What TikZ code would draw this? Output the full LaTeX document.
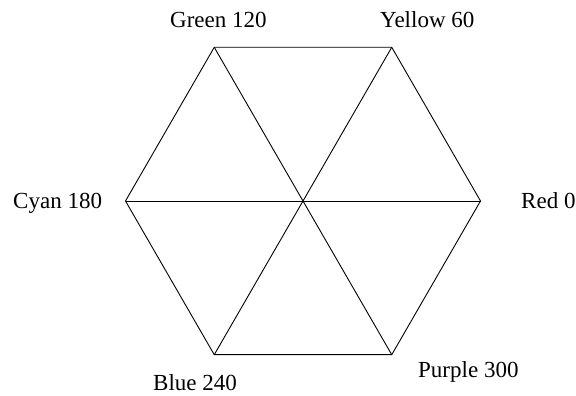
\documentclass[tikz,border=0pt]{standalone}
\usepackage{fontspec}
\setmainfont{Liberation Serif}
\begin{document}
\begin{tikzpicture}[x=1pt,y=1pt,
  edge/.style={line width=0.9pt,line join=miter},
  lbl/.style={anchor=base west,inner sep=0pt,font=\fontsize{23}{27}\selectfont}]
\useasboundingbox (0,0) rectangle (576,396);
% center and vertices (y flipped: 396 - y)
\coordinate (O) at (303,195);
\coordinate (R) at (480.5,195);
\coordinate (Y) at (391.75,348.7);
\coordinate (G) at (214.25,348.7);
\coordinate (C) at (125.5,195);
\coordinate (B) at (214.25,41.3);
\coordinate (P) at (391.75,41.3);
\draw[edge] (R) -- (Y) -- (G) -- (C) -- (B) -- (P) -- cycle;
\draw[edge] (R) -- (C);
\draw[edge] (Y) -- (B);
\draw[edge] (G) -- (P);
\node[lbl] (lg) at (170,368) {Green 120};
\node[lbl] (ly) at (380,368) {Yellow 60};
\node[lbl] (lc) at (13,187) {Cyan 180};
\node[lbl] (lr) at (521,187) {Red 0};
\node[lbl] (lb) at (153,5) {Blue 240};
\node[lbl] (lp) at (418,18) {Purple 300};
\end{tikzpicture}
\end{document}
